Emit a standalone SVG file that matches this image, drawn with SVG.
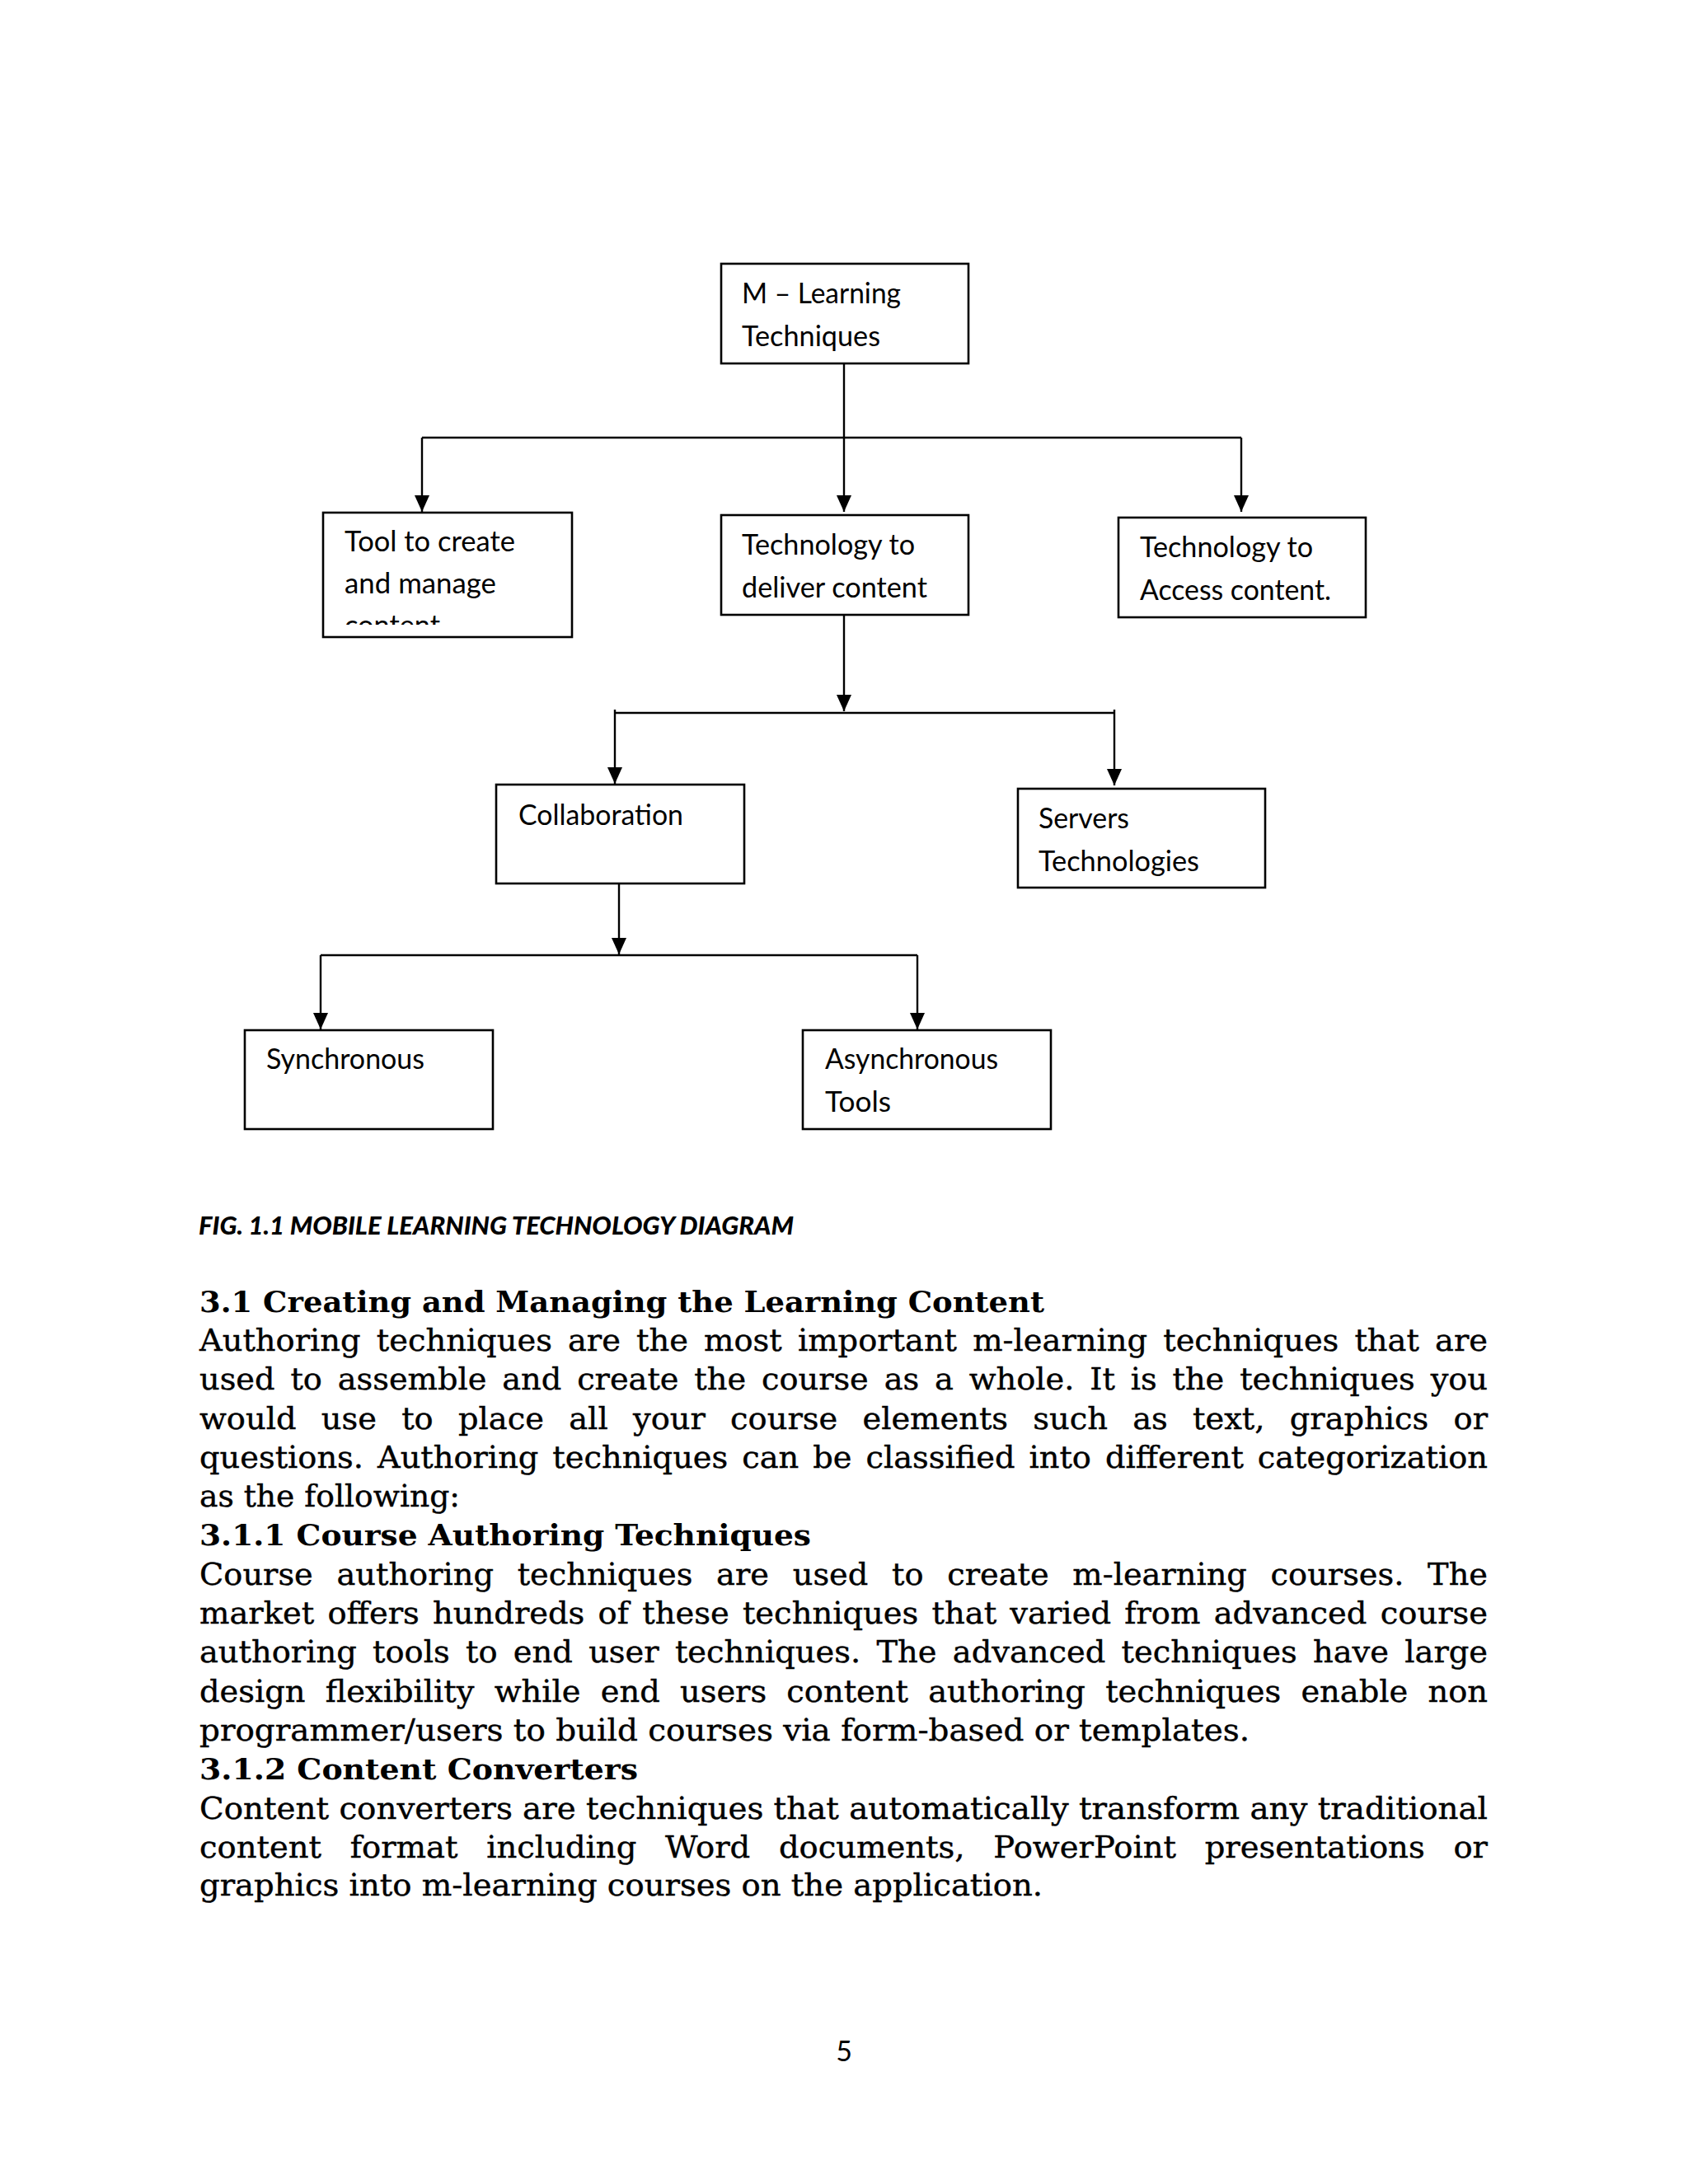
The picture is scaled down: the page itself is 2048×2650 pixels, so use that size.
<svg xmlns="http://www.w3.org/2000/svg" width="2048" height="2650" viewBox="0 0 2048 2650">
<style>
.box{fill:#fff;stroke:#000;stroke-width:2.6}
.bt{font-family:Lato,"Liberation Sans",sans-serif;font-size:34px;fill:#000}
.con{fill:none;stroke:#000;stroke-width:2.4}
.cap{font-family:Lato,"Liberation Sans",sans-serif;font-size:30px;font-weight:900;font-style:italic;fill:#000}
.h{font-family:"DejaVu Serif","Liberation Serif",serif;font-size:36px;font-weight:bold;fill:#000}
.p{font-family:"DejaVu Serif","Liberation Serif",serif;font-size:37px;fill:#000;stroke:#000;stroke-width:0.4}
.pg{font-family:Lato,"Liberation Sans",sans-serif;font-size:34px;fill:#000}
</style>
<defs>
<marker id="ah" viewBox="0 0 20 18" refX="20" refY="9" markerWidth="20" markerHeight="18" markerUnits="userSpaceOnUse" orient="auto"><path d="M0,0 L20,9 L0,18 z" fill="#000"/></marker>
<clipPath id="clipTool"><rect x="392" y="622" width="302" height="136"/></clipPath>
</defs>
<rect width="2048" height="2650" fill="#fff"/>

<g id="connectors">
<path class="con" d="M1024,441 V621" marker-end="url(#ah)"/>
<path class="con" d="M512,531 H1506"/>
<path class="con" d="M512,531 V621" marker-end="url(#ah)"/>
<path class="con" d="M1506,531 V621" marker-end="url(#ah)"/>
<path class="con" d="M1024,744 V863" marker-end="url(#ah)"/>
<path class="con" d="M746,865 H1352"/>
<path class="con" d="M746,861 V951" marker-end="url(#ah)"/>
<path class="con" d="M1352,861 V953" marker-end="url(#ah)"/>
<path class="con" d="M751,1068 V1158" marker-end="url(#ah)"/>
<path class="con" d="M389,1159 H1113"/>
<path class="con" d="M389,1159 V1249" marker-end="url(#ah)"/>
<path class="con" d="M1113,1159 V1249" marker-end="url(#ah)"/>
</g>

<g id="node-mlearning">
<rect class="box" x="875" y="320" width="300" height="121"/>
<text class="bt" x="900" y="368" textLength="193" lengthAdjust="spacingAndGlyphs">M – Learning</text>
<text class="bt" x="900" y="420" textLength="168" lengthAdjust="spacingAndGlyphs">Techniques</text>
</g>
<g id="node-tool">
<rect class="box" x="392" y="622" width="302" height="151"/>
<text class="bt" x="418" y="669" textLength="207" lengthAdjust="spacingAndGlyphs">Tool to create</text>
<text class="bt" x="418" y="720" textLength="184" lengthAdjust="spacingAndGlyphs">and manage</text>
<text class="bt" x="418" y="771" textLength="116" lengthAdjust="spacingAndGlyphs" clip-path="url(#clipTool)">content</text>
</g>
<g id="node-deliver">
<rect class="box" x="875" y="625" width="300" height="121"/>
<text class="bt" x="900" y="673" textLength="210" lengthAdjust="spacingAndGlyphs">Technology to</text>
<text class="bt" x="900" y="725" textLength="225" lengthAdjust="spacingAndGlyphs">deliver content</text>
</g>
<g id="node-access">
<rect class="box" x="1357" y="628" width="300" height="121"/>
<text class="bt" x="1383" y="676" textLength="210" lengthAdjust="spacingAndGlyphs">Technology to</text>
<text class="bt" x="1383" y="728" textLength="232" lengthAdjust="spacingAndGlyphs">Access content.</text>
</g>
<g id="node-collaboration">
<rect class="box" x="602" y="952" width="301" height="120"/>
<text class="bt" x="629" y="1001" textLength="200" lengthAdjust="spacingAndGlyphs">Collaboration</text>
</g>
<g id="node-servers">
<rect class="box" x="1235" y="957" width="300" height="120"/>
<text class="bt" x="1260" y="1005" textLength="110" lengthAdjust="spacingAndGlyphs">Servers</text>
<text class="bt" x="1260" y="1057" textLength="195" lengthAdjust="spacingAndGlyphs">Technologies</text>
</g>
<g id="node-synchronous">
<rect class="box" x="297" y="1250" width="301" height="120"/>
<text class="bt" x="323" y="1297" textLength="192" lengthAdjust="spacingAndGlyphs">Synchronous</text>
</g>
<g id="node-asynchronous">
<rect class="box" x="974" y="1250" width="301" height="120"/>
<text class="bt" x="1001" y="1297" textLength="210" lengthAdjust="spacingAndGlyphs">Asynchronous</text>
<text class="bt" x="1001" y="1349" textLength="80" lengthAdjust="spacingAndGlyphs">Tools</text>
</g>

<text class="cap" x="241" y="1498" textLength="722" lengthAdjust="spacingAndGlyphs">FIG. 1.1 MOBILE LEARNING TECHNOLOGY DIAGRAM</text>

<g id="body-text">
<text class="h" x="242" y="1592" textLength="1025" lengthAdjust="spacingAndGlyphs">3.1 Creating and Managing the Learning Content</text>
<text class="p" x="242" y="1639" textLength="1563" lengthAdjust="spacingAndGlyphs" word-spacing="6.7">Authoring techniques are the most important m-learning techniques that are</text>
<text class="p" x="242" y="1686" textLength="1563" lengthAdjust="spacingAndGlyphs" word-spacing="6.5">used to assemble and create the course as a whole. It is the techniques you</text>
<text class="p" x="242" y="1734" textLength="1563" lengthAdjust="spacingAndGlyphs" word-spacing="17.5">would use to place all your course elements such as text, graphics or</text>
<text class="p" x="242" y="1781" textLength="1563" lengthAdjust="spacingAndGlyphs" word-spacing="4.6">questions. Authoring techniques can be classified into different categorization</text>
<text class="p" x="242" y="1828" textLength="316" lengthAdjust="spacingAndGlyphs">as the following:</text>
<text class="h" x="242" y="1875" textLength="742" lengthAdjust="spacingAndGlyphs">3.1.1 Course Authoring Techniques</text>
<text class="p" x="242" y="1923" textLength="1563" lengthAdjust="spacingAndGlyphs" word-spacing="16">Course authoring techniques are used to create m-learning courses. The</text>
<text class="p" x="242" y="1970" textLength="1563" lengthAdjust="spacingAndGlyphs" word-spacing="3.9">market offers hundreds of these techniques that varied from advanced course</text>
<text class="p" x="242" y="2017" textLength="1563" lengthAdjust="spacingAndGlyphs" word-spacing="6.9">authoring tools to end user techniques. The advanced techniques have large</text>
<text class="p" x="242" y="2065" textLength="1563" lengthAdjust="spacingAndGlyphs" word-spacing="11.6">design flexibility while end users content authoring techniques enable non</text>
<text class="p" x="242" y="2112" textLength="1274" lengthAdjust="spacingAndGlyphs">programmer/users to build courses via form-based or templates.</text>
<text class="h" x="242" y="2159" textLength="532" lengthAdjust="spacingAndGlyphs">3.1.2 Content Converters</text>
<text class="p" x="242" y="2207" textLength="1563" lengthAdjust="spacingAndGlyphs">Content converters are techniques that automatically transform any traditional</text>
<text class="p" x="242" y="2254" textLength="1563" lengthAdjust="spacingAndGlyphs" word-spacing="21.7">content format including Word documents, PowerPoint presentations or</text>
<text class="p" x="242" y="2300" textLength="1023" lengthAdjust="spacingAndGlyphs">graphics into m-learning courses on the application.</text>
</g>

<text class="pg" x="1024" y="2501" text-anchor="middle">5</text>
</svg>
